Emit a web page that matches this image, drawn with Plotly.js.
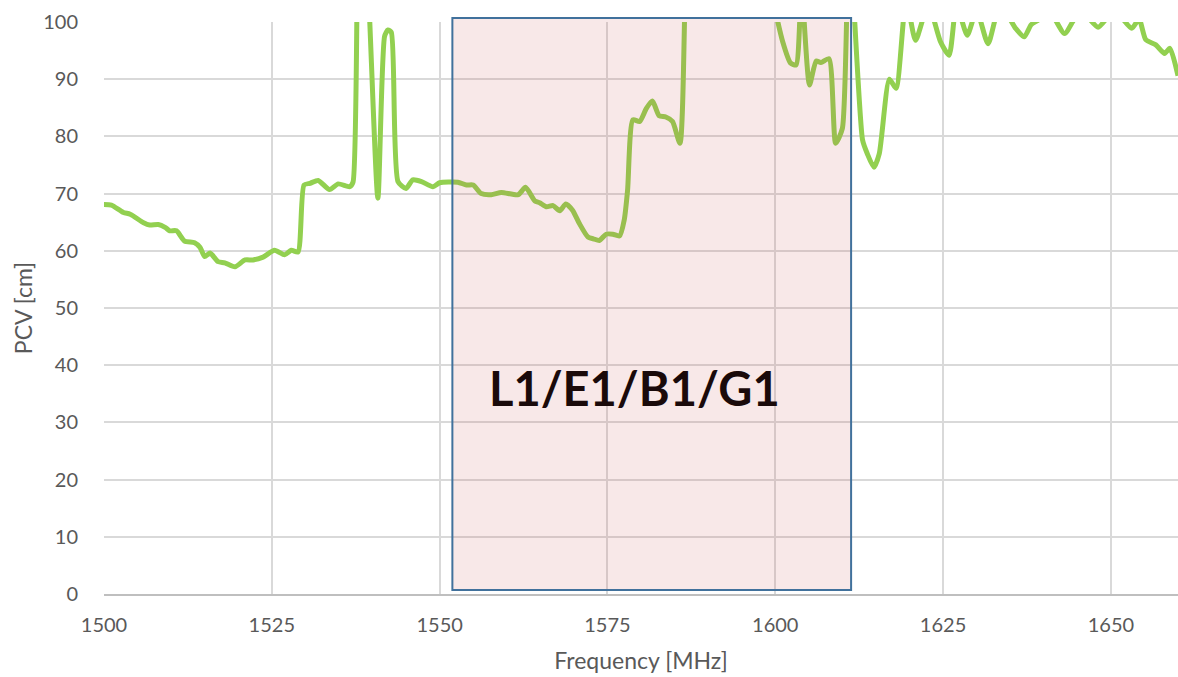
<!DOCTYPE html>
<html>
<head>
<meta charset="utf-8">
<script src="https://cdn.plot.ly/plotly-3.0.1.min.js"></script>
<style>
  html, body { margin: 0; padding: 0; background: #fff; }
  #plot { width: 1178px; height: 677px; }
</style>
</head>
<body>
<div id="plot"></div>
<script>
// PCV over frequency
var freq = [
  1500, 1501.1, 1502.9, 1503.9, 1505.9, 1506.8, 1508.1, 1509.1, 1509.8, 1510.8,
  1512, 1513.5, 1514.3, 1515, 1515.8, 1517, 1518, 1519.5, 1521, 1522.2,
  1523.7, 1525.4, 1526.9, 1527.9, 1528.9, 1529.8, 1530.7, 1531.9, 1533.6, 1534.9,
  1536.6, 1537.1, 1538, 1539, 1540.8, 1541.8, 1542.3, 1542.8, 1543.8, 1545,
  1546, 1547.3, 1549, 1550, 1552.7, 1554, 1555, 1556.2, 1557.7, 1559.2,
  1561.7, 1562.8, 1564.2, 1564.9, 1565.9, 1566.9, 1567.9, 1568.8, 1569.8, 1570.8,
  1572.1, 1572.9, 1573.8, 1574.8, 1575.8, 1576.8, 1577.5, 1578, 1578.8, 1579.8,
  1580.8, 1581.7, 1582.7, 1583.7, 1584.7, 1585.8, 1586.8, 1588, 1590, 1592,
  1594, 1596, 1598, 1599.5, 1601.1, 1602.3, 1603.1, 1603.9, 1605.1, 1606.1,
  1606.8, 1608, 1609, 1610, 1611, 1613, 1613.7, 1614.7, 1615.5, 1617,
  1618, 1619.5, 1620.9, 1622.8, 1624.6, 1625.9, 1627, 1628.6, 1630, 1631.7,
  1633.5, 1635.8, 1637.1, 1638.1, 1639, 1641, 1643.1, 1645.5, 1648.1, 1650.5,
  1653.1, 1654.2, 1655.2, 1656.7, 1658, 1658.8, 1660
];
var pcv = [
  68.1, 68.0, 66.7, 66.4, 64.9, 64.5, 64.6, 64.1, 63.5, 63.5,
  61.7, 61.4, 60.6, 59.0, 59.6, 58.1, 57.9, 57.2, 58.4, 58.4,
  58.9, 60.1, 59.3, 60.1, 59.8, 71.5, 71.8, 72.3, 70.7, 71.7,
  71.2, 72.0, 125, 115, 69.2, 97.5, 98.6, 98.2, 72.1, 70.9,
  72.4, 72.1, 71.2, 71.9, 72.0, 71.5, 71.5, 70.0, 69.8, 70.2,
  69.8, 71.1, 68.7, 68.4, 67.7, 67.9, 67.0, 68.2, 67.1, 64.8,
  62.4, 62.1, 61.8, 62.9, 62.9, 62.6, 65.4, 70.6, 82.9, 82.6,
  84.9, 86.2, 83.6, 83.4, 82.6, 78.8, 115, 130, 135, 125,
  140, 130, 120, 105, 96.6, 92.8, 92.5, 106, 89.0, 93.2,
  92.9, 93.6, 78.8, 81.4, 115, 79.4, 77.0, 74.6, 77.0, 90.0,
  88.4, 104, 96.8, 103, 96.6, 94.2, 103, 97.7, 102, 96.2,
  103, 98.9, 97.4, 99.5, 100.2, 101.5, 98.0, 102, 99.1, 102,
  98.9, 100.5, 96.9, 96.0, 94.5, 95.4, 90.6
];

// highlighted band
var bandName = "L1/E1/B1/G1";
var bandStart = 1551.9;
var bandEnd = 1611.3;

var trace1 = {
  x: freq,
  y: pcv,
  mode: "lines",
  type: "scatter",
  line: { color: "#92D050", width: 5, shape: "spline", smoothing: 0.6 },
  hoverinfo: "x+y"
};

var layout = {
  width: 1178,
  height: 677,
  margin: { l: 104, r: 0, t: 22, b: 83 },
  paper_bgcolor: "#ffffff",
  plot_bgcolor: "#ffffff",
  showlegend: false,
  font: { family: "Lato, 'Open Sans', sans-serif", color: "#595959", size: 20 },
  xaxis: {
    range: [1500, 1660],
    tickvals: [1500, 1525, 1550, 1575, 1600, 1625, 1650],
    showgrid: true,
    gridcolor: "#d9d9d9",
    gridwidth: 2,
    zeroline: false,
    showline: true,
    linecolor: "#bfbfbf",
    linewidth: 2,
    ticks: "",
    ticklabelstandoff: 12,
    title: { text: "Frequency [MHz]", font: { size: 23, color: "#595959" }, standoff: 18 }
  },
  yaxis: {
    range: [0, 100],
    dtick: 10,
    showgrid: true,
    gridcolor: "#d9d9d9",
    gridwidth: 2,
    zeroline: false,
    showline: false,
    ticks: "outside",
    ticklen: 21,
    tickcolor: "rgba(0,0,0,0)",
    title: { text: "PCV [cm]", font: { size: 23, color: "#595959" }, standoff: 4 }
  },
  shapes: [{
    type: "rect",
    xref: "x",
    yref: "paper",
    x0: bandStart,
    x1: bandEnd,
    y0: 0.007,
    y1: 1.007,
    fillcolor: "rgba(200,80,80,0.13)",
    line: { color: "#41719C", width: 2 },
    layer: "above"
  }],
  annotations: [{
    x: 1579,
    y: 36,
    xref: "x",
    yref: "y",
    text: "<b>" + bandName + "</b>",
    showarrow: false,
    font: { family: "Lato, sans-serif", size: 47, color: "#1a0a0a" }
  }]
};

Plotly.newPlot("plot", [trace1], layout, { displayModeBar: false, staticPlot: true });
</script>
</body>
</html>
